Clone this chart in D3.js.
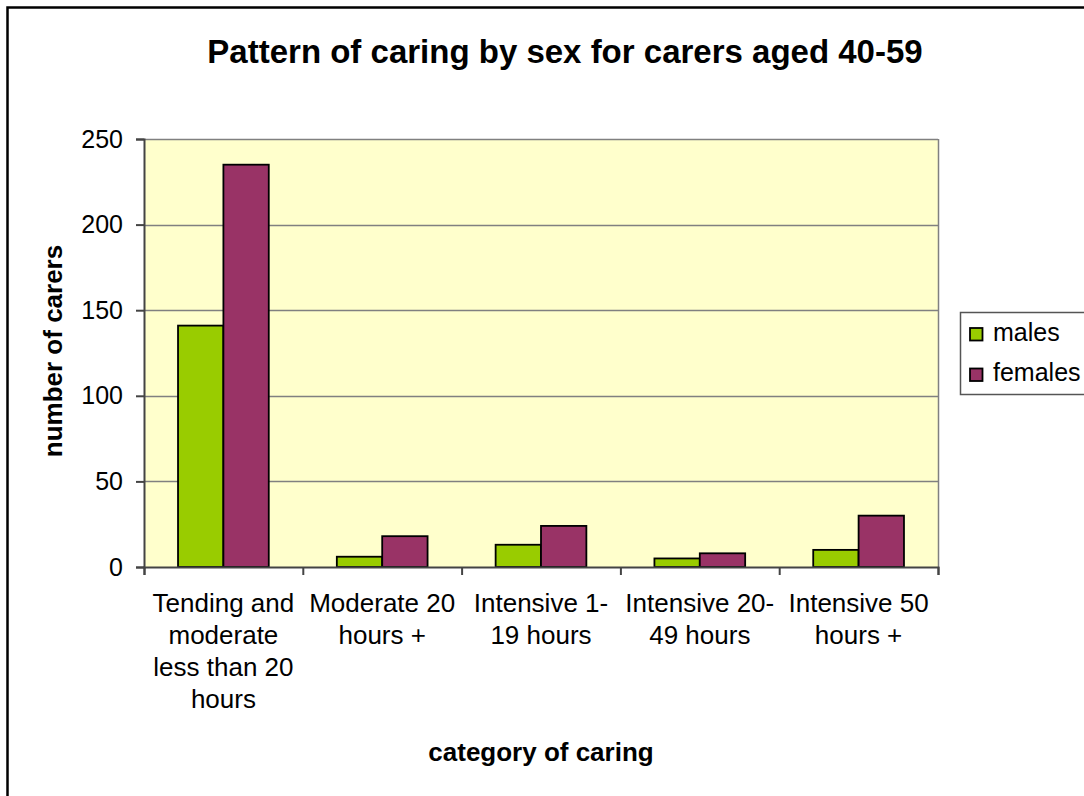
<!DOCTYPE html>
<html>
<head>
<meta charset="utf-8">
<script src="https://cdn.jsdelivr.net/npm/d3@7"></script>
<style>
    body { margin: 0; background: #fff; }
    svg text { font-family: "Liberation Sans", Arial, sans-serif; }
</style>
</head>
<body>
<script>
// chart data
const categories = ["Tending and moderate less than 20 hours", "Moderate 20 hours +",
    "Intensive 1-19 hours", "Intensive 20-49 hours", "Intensive 50 hours +"];
// how the category labels wrap under the axis
const categoryLines = [
    ["Tending and", "moderate", "less than 20", "hours"],
    ["Moderate 20", "hours +"],
    ["Intensive 1-", "19 hours"],
    ["Intensive 20-", "49 hours"],
    ["Intensive 50", "hours +"]
];
const seriesNames = ["males", "females"];
const males = [141, 6, 13, 5, 10];
const females = [235, 18, 24, 8, 30];
const yTicks = [0, 50, 100, 150, 200, 250];
const colors = ["#99CC00", "#993366"];

const title = "Pattern of caring by sex for carers aged 40-59";
const xTitle = "category of caring";
const yTitle = "number of carers";

let rows = categories.map((c, i) => ({ category: c, values: [males[i], females[i]] }));

let svg = d3.select("body")
    .append("svg")
        .attr("width", 1084)
        .attr("height", 796);

// outer chart border (runs off the right and bottom of the picture)
svg.append("rect")
    .attr("x", 7.5)
    .attr("y", 7.5)
    .attr("width", 1200)
    .attr("height", 900)
    .attr("fill", "#fff")
    .attr("stroke", "#000")
    .attr("stroke-width", 2.5);

let plot = { left: 144, right: 938, top: 139, bottom: 567 };

let xScale = d3.scaleBand()
    .domain(categories)
    .range([plot.left, plot.right]);

// Excel style: gap width 150% -> outer padding 0.75 of a bar on each side
let xInner = d3.scaleBand()
    .domain(seriesNames)
    .range([0, xScale.bandwidth()])
    .paddingInner(0)
    .paddingOuter(0.75);

let yScale = d3.scaleLinear()
    .domain([0, 250])
    .range([plot.bottom, plot.top]);

// plot background
svg.append("rect")
    .attr("x", plot.left)
    .attr("y", plot.top)
    .attr("width", plot.right - plot.left)
    .attr("height", plot.bottom - plot.top)
    .attr("fill", "#FFFFCC");

// gridlines
svg.append("g")
    .attr("class", "grid")
    .selectAll("line")
    .data(yTicks.slice(1))
    .enter()
        .append("line")
        .attr("x1", plot.left)
        .attr("x2", plot.right)
        .attr("y1", d => Math.round(yScale(d)) + 0.5)
        .attr("y2", d => Math.round(yScale(d)) + 0.5)
        .attr("stroke", "#808080")
        .attr("stroke-width", 1.5);

// right edge of the plot area
svg.append("line")
    .attr("x1", plot.right + 0.5)
    .attr("x2", plot.right + 0.5)
    .attr("y1", plot.top)
    .attr("y2", plot.bottom)
    .attr("stroke", "#808080")
    .attr("stroke-width", 1.5);

// bars
let groups = svg.selectAll("g.bars")
    .data(rows)
    .enter()
        .append("g")
        .attr("class", "bars")
        .attr("transform", d => `translate(${xScale(d.category)}, 0)`);

groups.selectAll("rect")
    .data(d => d.values.map((v, j) => ({ name: seriesNames[j], value: v, j: j })))
    .enter()
        .append("rect")
            .attr("x", d => xInner(d.name))
            .attr("y", d => yScale(d.value))
            .attr("width", xInner.bandwidth())
            .attr("height", d => yScale(0) - yScale(d.value))
            .attr("fill", d => colors[d.j])
            .attr("stroke", "#000")
            .attr("stroke-width", 1.8);

// y axis
let yAxis = d3.axisLeft()
    .scale(yScale)
    .tickValues(yTicks)
    .tickSize(8)
    .tickPadding(13);

let yG = svg.append("g")
    .attr("class", "yAxis")
    .attr("transform", `translate(${plot.left}, 0)`)
    .call(yAxis);

// x axis: ticks sit on the category boundaries
let edgeScale = d3.scaleLinear()
    .domain([0, categories.length])
    .range([plot.left, plot.right]);

let xAxis = d3.axisBottom()
    .scale(edgeScale)
    .ticks(categories.length)
    .tickFormat("")
    .tickSize(8);

let xG = svg.append("g")
    .attr("class", "xAxis")
    .attr("transform", `translate(0, ${plot.bottom})`)
    .call(xAxis);

[yG, xG].forEach(g => {
    g.select(".domain").attr("stroke", "#444").attr("stroke-width", 2);
    g.selectAll(".tick line").attr("stroke", "#444").attr("stroke-width", 2);
});

yG.selectAll(".tick text")
    .attr("fill", "#000")
    .style("font-size", "25px")
    .style("font-family", "Liberation Sans, Arial, sans-serif");

// category labels
let labels = svg.append("g")
    .attr("class", "xLabels")
    .selectAll("text")
    .data(categories)
    .enter()
        .append("text")
        .attr("x", d => xScale(d) + xScale.bandwidth() / 2)
        .attr("y", 612)
        .attr("text-anchor", "middle")
        .style("font-size", "26px")
        .attr("fill", "#000");

labels.selectAll("tspan")
    .data((d, i) => categoryLines[i])
    .enter()
        .append("tspan")
        .attr("x", function() { return this.parentNode.getAttribute("x"); })
        .attr("dy", (d, i) => i == 0 ? 0 : 32)
        .text(d => d);

// titles
svg.append("text")
    .attr("x", 565)
    .attr("y", 63)
    .attr("text-anchor", "middle")
    .style("font-size", "33px")
    .style("font-weight", "bold")
    .text(title);

svg.append("text")
    .attr("x", (plot.left + plot.right) / 2)
    .attr("y", 761)
    .attr("text-anchor", "middle")
    .style("font-size", "26px")
    .style("font-weight", "bold")
    .text(xTitle);

svg.append("text")
    .attr("transform", `translate(62, ${(plot.top + plot.bottom) / 2 - 2}) rotate(-90)`)
    .attr("text-anchor", "middle")
    .style("font-size", "26px")
    .style("font-weight", "bold")
    .text(yTitle);

// legend
let legend = svg.append("g").attr("class", "legend");

legend.append("rect")
    .attr("x", 960.5)
    .attr("y", 312.5)
    .attr("width", 200)
    .attr("height", 82)
    .attr("fill", "#fff")
    .attr("stroke", "#555")
    .attr("stroke-width", 1.5);

let items = legend.selectAll("g.item")
    .data(seriesNames)
    .enter()
        .append("g")
        .attr("class", "item")
        .attr("transform", (d, i) => `translate(970, ${328 + i * 40.5})`);

items.append("rect")
    .attr("width", 12.5)
    .attr("height", 12.5)
    .attr("fill", (d, i) => colors[i])
    .attr("stroke", "#000")
    .attr("stroke-width", 1.8);

items.append("text")
    .attr("x", 23)
    .attr("y", 12.5)
    .style("font-size", "25px")
    .text(d => d);
</script>
</body>
</html>
